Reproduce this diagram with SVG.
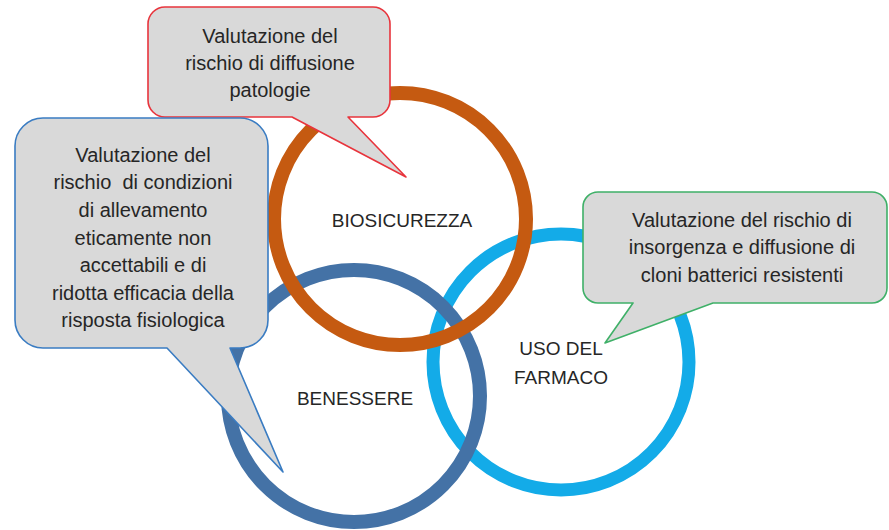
<svg xmlns="http://www.w3.org/2000/svg" width="889" height="530" viewBox="0 0 889 530">
  <style>
    .ring { fill: none; }
    .lbl { font-family: "Liberation Sans", Arial, sans-serif; font-size: 19px; fill: #262626; text-anchor: middle; }
    .ct { font-family: "Liberation Sans", Arial, sans-serif; font-size: 20px; fill: #262626; text-anchor: middle; white-space: pre; }
    .callout { fill: #d9d9d9; stroke-width: 1.6; stroke-linejoin: round; }
  </style>
  <rect width="889" height="530" fill="#ffffff"/>
  <g id="node-uso-del-farmaco">
    <circle class="ring" cx="561" cy="362" r="128" stroke="#13abe8" stroke-width="13"/>
    <text class="lbl" x="561" y="355">USO DEL</text>
    <text class="lbl" x="561" y="384">FARMACO</text>
  </g>
  <g id="node-benessere">
    <circle class="ring" cx="354" cy="396" r="126" stroke="#4472a6" stroke-width="14"/>
    <text class="lbl" x="355" y="405">BENESSERE</text>
  </g>
  <g id="node-biosicurezza">
    <circle class="ring" cx="400" cy="219" r="126" stroke="#c55a11" stroke-width="14"/>
    <text class="lbl" x="402" y="227">BIOSICUREZZA</text>
  </g>
  <g id="connectors"></g>
  <g id="callout-biosicurezza">
    <path class="callout" stroke="#e8343c" d="M 165,7 H 373 A 17 17 0 0 1 390,24 V 100 A 17 17 0 0 1 373,117 H 348 L 406,177 L 292,117 H 165 A 17 17 0 0 1 148,100 V 24 A 17 17 0 0 1 165,7 Z"/>
    <text class="ct" x="270" y="43">Valutazione del</text>
    <text class="ct" x="270" y="70">rischio di diffusione</text>
    <text class="ct" x="270" y="97">patologie</text>
  </g>
  <g id="callout-benessere">
    <path class="callout" stroke="#3a7cc2" d="M 43,118 H 240 A 28 28 0 0 1 268,146 V 320 A 28 28 0 0 1 240,348 H 230 L 283,472 L 167,348 H 43 A 28 28 0 0 1 15,320 V 146 A 28 28 0 0 1 43,118 Z"/>
    <text class="ct" x="143" y="162">Valutazione del</text>
    <text class="ct" x="143" y="189" xml:space="preserve">rischio  di condizioni</text>
    <text class="ct" x="143" y="217">di allevamento</text>
    <text class="ct" x="143" y="245">eticamente non</text>
    <text class="ct" x="143" y="272">accettabili e di</text>
    <text class="ct" x="143" y="300">ridotta efficacia della</text>
    <text class="ct" x="143" y="327">risposta fisiologica</text>
  </g>
  <g id="callout-uso-del-farmaco">
    <path class="callout" stroke="#3fb068" d="M 598,192 H 872 A 15 15 0 0 1 887,207 V 288 A 15 15 0 0 1 872,303 H 713 L 605,343 L 633,303 H 598 A 15 15 0 0 1 583,288 V 207 A 15 15 0 0 1 598,192 Z"/>
    <text class="ct" x="742" y="227">Valutazione del rischio di</text>
    <text class="ct" x="742" y="254">insorgenza e diffusione di</text>
    <text class="ct" x="742" y="282">cloni batterici resistenti</text>
  </g>
</svg>
